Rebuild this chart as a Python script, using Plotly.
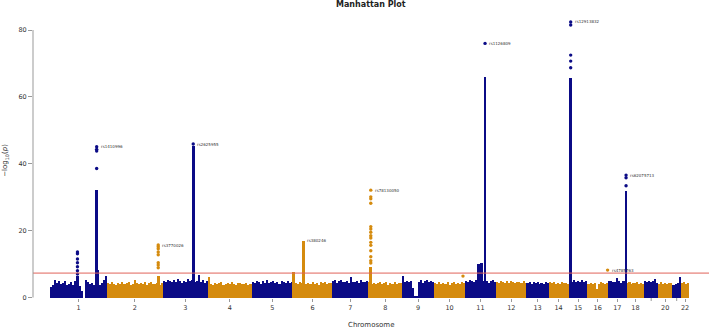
import plotly.graph_objects as go

# ---------------- data ----------------
chromosomes = list(range(1, 23))
chrom_len_mb = [249, 243, 198, 191, 181, 171, 159, 146, 141, 135, 135, 134,
                96, 88, 82, 90, 81, 78, 59, 63, 38, 35]
tick_labels = ["1", "2", "3", "4", "5", "6", "7", "8", "9", "10", "11", "12",
               "13", "14", "15", "16", "17", "18", "19", "20", "21", "22"]
hidden_tick_labels = ["19", "21"]   # overlapping labels not printed by the original

# background (non-significant SNP cloud) envelope heights, equal bins per chromosome
bg_chr1 = [3.1, 3.6, 5.2, 4.4, 5.0, 3.9, 4.3, 4.8, 3.8, 4.1, 4.6, 3.7, 4.9, 4.2, 3.5, 2.0, 0.0,
           5.3, 4.6, 3.9, 4.3, 3.8, 4.5, 4.0, 3.7, 4.4, 5.1, 6.3]
bg_chr2 = [4.3, 3.9, 4.6, 4.1, 3.8, 4.4, 4.0, 4.7, 3.9, 4.2, 4.5, 3.8, 4.1, 5.2, 4.4, 3.9, 4.3,
           4.0, 4.6, 3.8, 4.2, 4.5, 3.9, 4.1, 4.4, 3.8, 4.2]
bg_chr3 = [5.0, 4.6, 5.3, 4.8, 4.5, 5.1, 4.7, 5.4, 4.9, 4.4, 5.0, 4.6, 5.5, 4.8, 5.2, 4.7, 5.0,
           6.7, 4.6, 5.1, 4.4, 4.8]
bg_chr4 = [6.0, 4.1, 3.8, 4.4, 3.9, 4.2, 4.5, 3.7, 4.0, 4.3, 3.9, 4.6, 4.1, 3.8, 4.2, 4.4, 3.9,
           4.1, 4.3, 3.8, 4.0]
bg_chr5 = [4.7, 4.3, 5.0, 4.5, 4.1, 4.8, 4.4, 5.1, 4.2, 4.6, 4.9, 4.3, 4.7, 4.1, 5.0, 4.5, 4.3,
           4.8, 4.4, 4.6]
bg_chr6 = [4.3, 4.3, 4.0, 4.6, 4.2, 4.5, 3.9, 4.4, 4.1, 4.7, 4.0, 4.3, 3.8, 4.5, 4.2, 4.6, 3.9,
           4.2, 4.4]
bg_chr7 = [4.8, 5.1, 4.4, 4.9, 5.2, 4.5, 4.7, 5.0, 4.3, 6.0, 4.6, 4.6, 4.9, 4.4, 5.1, 4.7, 4.5, 4.9]
bg_chr8 = [4.5, 4.1, 4.4, 3.9, 4.3, 4.6, 4.0, 4.2, 4.5, 3.8, 4.3, 4.1, 4.6, 3.9, 4.2, 4.4]
bg_chr9 = [6.4, 4.7, 5.0, 4.5, 4.9, 2.8, 0.5, 0.3, 4.6, 5.1, 4.4, 4.8, 5.2, 4.5, 4.9, 4.6]
bg_chr10 = [4.3, 4.0, 4.6, 3.9, 4.4, 4.1, 4.5, 3.8, 4.2, 4.6, 4.0, 4.3, 3.9, 4.5, 4.2]
bg_chr11 = [5.0, 4.6, 5.3, 4.8, 4.5, 5.1, 4.7, 5.2, 4.9, 4.6, 5.0, 4.4, 4.8, 5.1, 4.6]
bg_chr12 = [4.7, 4.3, 4.9, 4.5, 4.2, 4.8, 4.4, 5.0, 4.6, 4.3, 4.7, 4.5, 4.2, 4.8, 4.4]
bg_chr13 = [4.3, 4.6, 4.0, 4.5, 4.2, 4.7, 4.1, 4.4, 4.0, 4.5, 4.3]
bg_chr14 = [4.5, 4.2, 4.7, 4.0, 4.4, 4.1, 4.6, 4.2, 4.3, 4.0]
bg_chr15 = [5.0, 4.7, 5.2, 4.6, 4.9, 4.5, 5.1, 4.7, 4.8]
bg_chr16 = [4.1, 4.4, 3.9, 4.3, 2.5, 4.0, 4.5, 4.2, 3.9, 4.3]
bg_chr17 = [4.8, 5.0, 4.5, 4.7, 5.7, 4.9, 4.4, 5.0, 4.6]
bg_chr18 = [4.3, 4.6, 4.0, 4.4, 4.2, 4.5, 3.9, 4.3, 4.1]
bg_chr19 = [4.9, 4.5, 5.0, 4.6, 4.8, 5.5, 4.4]
bg_chr20 = [4.1, 4.5, 3.9, 4.3, 4.0, 4.4, 4.2]
bg_chr21 = [3.8, 4.0, 4.4, 6.0]
bg_chr22 = [4.2, 4.5, 3.9, 4.3]

# dense SNP columns at associated loci (chromosome, position Mb, top of dense column)
col_chrom = [1, 1, 1, 2, 3, 6, 6, 8, 11, 11, 11, 15, 17]
col_pos = [120, 204, 209, 224, 134, 2, 45, 10, 58, 73, 87.4, 8.7, 78.7]
col_top = [6.5, 32.1, 8.2, 6.5, 45.2, 7.6, 16.9, 9.0, 9.9, 10.2, 66.0, 65.5, 31.9]

# separate SNP points above the dense columns
pt_chrom = [1] * 7 + [1] * 4 + [2] * 8 + [3] + [8] * 15 + [10] + [11] + [15] * 5 + [16] + [17] * 3
pt_pos = ([120] * 7 + [204] * 4 + [224] * 8 + [134] + [10] * 15 + [126] + [87.4]
          + [8.7] * 5 + [88] + [78.7] * 3)
pt_val = [13.6, 13.1, 11.5, 10.4, 9.2, 8.0, 7.0,
          45.1, 44.3, 43.8, 38.6,
          15.7, 15.2, 14.6, 13.6, 12.8, 10.4, 9.7, 8.9,
          45.9,
          32.1, 30.1, 29.5, 28.2, 21.2, 20.5, 19.5, 18.5, 17.8, 16.5, 15.6, 14.0, 12.2, 11.0, 10.3,
          6.4,
          76.0,
          82.4, 81.5, 72.5, 70.7, 68.7,
          8.2,
          36.6, 35.8, 33.4]

# lead SNP labels
lab_chrom = [1, 2, 3, 6, 8, 11, 15, 16, 17]
lab_pos = [204, 224, 134, 45, 10, 87.4, 8.7, 88, 78.7]
lab_val = [45.1, 15.7, 45.9, 16.9, 32.1, 76.0, 82.4, 8.2, 36.6]
lab_text = ["rs1410996", "rs3770026", "rs2625955", "rs380246", "rs78130050",
            "rs1126809", "rs12913832", "rs4785763", "rs62075713"]

threshold = 7.3
y_ticks = [0, 20, 40, 60, 80]

# ---------------- build ----------------
NAVY = "#0b0b86"
ORANGE = "#d58b0e"
bg_lists = [bg_chr1, bg_chr2, bg_chr3, bg_chr4, bg_chr5, bg_chr6, bg_chr7, bg_chr8,
            bg_chr9, bg_chr10, bg_chr11, bg_chr12, bg_chr13, bg_chr14, bg_chr15,
            bg_chr16, bg_chr17, bg_chr18, bg_chr19, bg_chr20, bg_chr21, bg_chr22]

offsets = []
acc = 0
for L in chrom_len_mb:
    offsets.append(acc)
    acc += L
mids = [o + L / 2 for o, L in zip(offsets, chrom_len_mb)]


def color_of(c):
    return NAVY if c % 2 == 1 else ORANGE


bx, by, bw, bc = [], [], [], []
for c, L, off, vals in zip(chromosomes, chrom_len_mb, offsets, bg_lists):
    w = L / len(vals)
    for i, v in enumerate(vals):
        bx.append(off + (i + 0.5) * w)
        by.append(v)
        bw.append(w)
        bc.append(color_of(c))

fig = go.Figure()
fig.add_trace(go.Bar(x=bx, y=by, width=bw, marker=dict(color=bc, line=dict(width=0)),
                     hoverinfo="skip", showlegend=False))

cx = [offsets[c - 1] + p for c, p in zip(col_chrom, col_pos)]
fig.add_trace(go.Bar(x=cx, y=col_top, width=[12] * len(cx),
                     marker=dict(color=[color_of(c) for c in col_chrom], line=dict(width=0)),
                     showlegend=False))

px_ = [offsets[c - 1] + p for c, p in zip(pt_chrom, pt_pos)]
fig.add_trace(go.Scatter(x=px_, y=pt_val, mode="markers", cliponaxis=False,
                         marker=dict(size=3.4, color=[color_of(c) for c in pt_chrom]),
                         showlegend=False))

annotations = []
for c, p, v, t in zip(lab_chrom, lab_pos, lab_val, lab_text):
    annotations.append(dict(x=offsets[c - 1] + p, y=v, text=t, showarrow=False,
                            xanchor="left", yanchor="middle", xshift=2,
                            font=dict(size=4, color="#333", family="DejaVu Sans")))

annotations += [
    dict(xref="paper", yref="paper", x=0.5, y=1 + 13 / 280, text="<b>Manhattan Plot</b>",
         showarrow=False, xanchor="center", yanchor="middle",
         font=dict(size=8, color="#222", family="DejaVu Sans")),
    dict(xref="paper", yref="paper", x=0.5, y=-27 / 280, text="Chromosome",
         showarrow=False, xanchor="center", yanchor="middle",
         font=dict(size=7, color="#333", family="DejaVu Sans")),
    dict(xref="paper", yref="paper", x=0, y=0.49, xshift=-28, textangle=-90,
         text="\u2212log<sub>10</sub>(<i>p</i>)", showarrow=False,
         xanchor="center", yanchor="middle",
         font=dict(size=7, color="#333", family="DejaVu Sans")),
]

shapes = [
    dict(type="line", xref="paper", x0=0, x1=1, yref="y", y0=threshold, y1=threshold,
         line=dict(color="#e0635a", width=1)),
    dict(type="line", xref="paper", x0=0, x1=0, yref="y", y0=0, y1=80,
         line=dict(color="#999", width=1)),
]

shown_vals = [m for m, t in zip(mids, tick_labels) if t not in hidden_tick_labels]
shown_text = [t for t in tick_labels if t not in hidden_tick_labels]
for m, t in zip(mids, tick_labels):
    if t in hidden_tick_labels:
        shapes.append(dict(type="line", xref="x", x0=m, x1=m, yref="paper", y0=0, y1=-3 / 280,
                           line=dict(color="#999", width=1)))

fig.update_layout(
    width=709, height=329,
    margin=dict(l=33, r=0, t=18, b=31),
    paper_bgcolor="white", plot_bgcolor="white",
    barmode="overlay", bargap=0,
    showlegend=False,
    annotations=annotations, shapes=shapes,
    xaxis=dict(range=[-74.3, 2880.2], tickmode="array", tickvals=shown_vals, ticktext=shown_text,
               ticks="outside", ticklen=3, tickcolor="#999", showgrid=False, zeroline=False,
               showline=False, tickfont=dict(size=6.5, color="#333", family="DejaVu Sans")),
    yaxis=dict(range=[-0.15, 83.59], tickmode="array", tickvals=y_ticks,
               ticks="outside", ticklen=4, tickcolor="#999", showgrid=False, zeroline=False,
               showline=False, tickfont=dict(size=6.5, color="#333", family="DejaVu Sans")),
)

fig.write_html("out.html", config={"displayModeBar": False},
               post_script="document.body.style.margin='0';document.body.style.overflow='hidden';")
